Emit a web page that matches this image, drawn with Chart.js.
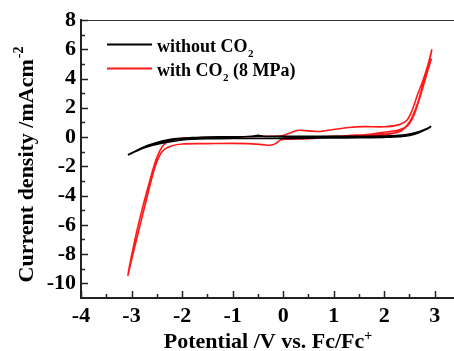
<!DOCTYPE html>
<html>
<head>
<meta charset="utf-8">
<script src="https://cdn.jsdelivr.net/npm/chart.js@4.4.1/dist/chart.umd.min.js"></script>
<style>
html,body{margin:0;padding:0;overflow:hidden;background:#fff;width:454px;height:351px;}
canvas{display:block;}
</style>
</head>
<body>
<canvas id="c" width="470" height="351"></canvas>
<script>
// ---- data ----
const xTickValues = [-4, -3, -2, -1, 0, 1, 2, 3];
const yTickValues = [-10, -8, -6, -4, -2, 0, 2, 4, 6, 8];
const seriesNames = ['without CO', 'with CO'];

// without CO2 (black) – potential /V
const blackX = [-3.07,-2.9,-2.7,-2.5,-2.3,-2.1,-1.8,-1.5,-1.0,-0.6,-0.5,-0.4,0.0,0.5,1.0,1.5,2.0,2.3,2.5,2.7,2.85,2.92,
  2.9,2.75,2.6,2.4,2.2,2.0,1.5,1.0,0.5,0.0,-0.5,-1.0,-1.5,-1.8,-2.0,-2.2,-2.4,-2.6,-2.8,-3.06,
  -2.9,-2.7,-2.5,-2.3,-2.1,-1.8,-1.5,-1.0,0.0,1.0,2.0,2.3,2.5,2.7,2.85,2.93];
const blackY = [-1.23,-0.95,-0.65,-0.42,-0.25,-0.13,-0.06,-0.03,0.0,0.06,0.12,0.06,0.03,0.03,0.04,0.05,0.06,0.1,0.18,0.35,0.55,0.72,
  0.65,0.4,0.2,0.06,0.0,-0.02,-0.05,-0.06,-0.08,-0.1,-0.1,-0.1,-0.12,-0.15,-0.2,-0.3,-0.42,-0.58,-0.8,-1.2,
  -0.92,-0.6,-0.37,-0.2,-0.1,-0.04,0.0,0.02,0.05,0.05,0.07,0.12,0.2,0.38,0.58,0.75];

// with CO2 (8 MPa) (red)
const redX = [0.0,0.5,1.0,1.5,1.9,2.2,2.35,2.47,2.6,2.77,2.93,
  2.9,2.75,2.6,2.47,2.3,2.0,1.65,1.3,1.0,0.5,0.1,-0.05,-0.15,-0.26,-0.4,-0.7,-1.0,-1.5,-2.0,-2.2,-2.35,-2.45,-2.55,-2.7,-2.85,-3.0,-3.07,
  -3.04,-2.9,-2.75,-2.6,-2.5,-2.4,-2.3,-2.17,-2.0,-1.5,-1.0,-0.5,-0.2,0.0,0.15,0.3,0.5,0.7,1.0,1.3,1.6,2.0,2.3,2.45,2.55,2.65,2.78,2.87,2.94,
  2.92,2.8,2.65,2.5,2.35,2.1,1.8,1.5,1.0,0.5,0.2,0.0];
const redY = [-0.05,0.0,0.05,0.1,0.18,0.3,0.5,0.87,1.7,3.5,5.3,
  5.0,3.2,1.6,0.8,0.5,0.33,0.17,0.1,0.0,-0.12,-0.15,-0.2,-0.45,-0.56,-0.52,-0.45,-0.43,-0.45,-0.47,-0.6,-0.85,-1.3,-2.2,-4.2,-6.3,-8.4,-9.45,
  -8.8,-6.5,-4.4,-2.5,-1.4,-0.7,-0.35,-0.15,-0.08,-0.03,0.0,0.05,0.05,0.1,0.3,0.46,0.42,0.38,0.52,0.65,0.71,0.7,0.85,1.15,1.8,2.8,4.0,5.0,5.95,
  5.6,4.0,2.2,1.0,0.45,0.2,0.1,0.05,0.0,-0.1,-0.12,-0.1];

const toPts = (xs, ys) => xs.map((x, i) => ({x: x, y: ys[i]}));

const FONT = '"Liberation Serif","Times New Roman",serif';

// inward minor/major ticks, top frame line, legend and axis titles
const decor = {
  id: 'decor',
  afterDraw(chart) {
    const ctx = chart.ctx, a = chart.chartArea;
    const xs = chart.scales.x, ys = chart.scales.y;
    ctx.save();
    // top frame
    ctx.strokeStyle = '#333';
    ctx.lineWidth = 1;
    ctx.beginPath(); ctx.moveTo(a.left, a.top + 0.5); ctx.lineTo(a.right, a.top + 0.5); ctx.stroke();
    // ticks
    ctx.strokeStyle = '#222';
    ctx.lineWidth = 1.5;
    for (let v = -4; v <= 3.5001; v += 0.5) {
      const px = Math.round(xs.getPixelForValue(v)) + 0.5;
      const major = Math.abs(v - Math.round(v)) < 1e-6;
      const len = major ? 7 : 4;
      ctx.beginPath(); ctx.moveTo(px, a.bottom); ctx.lineTo(px, a.bottom - len); ctx.stroke();
    }
    for (let v = -10; v <= 8; v += 1) {
      const py = Math.round(ys.getPixelForValue(v)) + 0.5;
      const major = v % 2 === 0;
      const len = major ? 7 : 4;
      ctx.beginPath(); ctx.moveTo(a.left, py); ctx.lineTo(a.left + len, py); ctx.stroke();
    }
    // legend
    const items = [
      {color: '#000000', y: 44.5, main: 'without CO', sub: '2', tail: ''},
      {color: '#ff1a1a', y: 68.5, main: 'with CO', sub: '2', tail: ' (8 MPa)'}
    ];
    items.forEach(it => {
      ctx.strokeStyle = it.color;
      ctx.lineWidth = 1.8;
      ctx.beginPath(); ctx.moveTo(107, it.y); ctx.lineTo(152, it.y); ctx.stroke();
      ctx.fillStyle = '#000';
      ctx.textBaseline = 'alphabetic';
      ctx.textAlign = 'left';
      ctx.font = 'bold 18px ' + FONT;
      let x = 157;
      const base = it.y + 7;
      ctx.fillText(it.main, x, base);
      x += ctx.measureText(it.main).width;
      ctx.font = 'bold 11px ' + FONT;
      ctx.fillText(it.sub, x + 0.5, base + 5);
      x += ctx.measureText(it.sub).width + 0.5;
      if (it.tail) {
        ctx.font = 'bold 18px ' + FONT;
        ctx.fillText(it.tail, x, base);
      }
    });
    // x title
    ctx.font = 'bold 22px ' + FONT;
    const xt = 'Potential /V vs. Fc/Fc';
    const xw = ctx.measureText(xt).width;
    ctx.font = 'bold 14px ' + FONT;
    const supW = ctx.measureText('+').width;
    const x0 = 268 - (xw + supW) / 2;
    ctx.font = 'bold 22px ' + FONT;
    ctx.fillText(xt, x0, 348);
    ctx.font = 'bold 14px ' + FONT;
    ctx.fillText('+', x0 + xw, 340);
    // y title (rotated)
    ctx.translate(33, 175);
    ctx.rotate(-Math.PI / 2);
    ctx.font = 'bold 22px ' + FONT;
    const yt = 'Current density /mAcm';
    const yw = ctx.measureText(yt).width;
    ctx.font = 'bold 14px ' + FONT;
    const ysw = ctx.measureText('-2').width;
    const y0 = -(yw + ysw) / 2 + 10;
    ctx.font = 'bold 22px ' + FONT;
    ctx.fillText(yt, y0, 0);
    ctx.font = 'bold 14px ' + FONT;
    ctx.fillText('-2', y0 + yw + 1, -10);
    ctx.restore();
  }
};

new Chart(document.getElementById('c'), {
  type: 'scatter',
  data: {
    datasets: [
      {label: seriesNames[0] + '2', data: toPts(blackX, blackY), showLine: true, borderColor: '#000000',
       borderWidth: 1.6, pointRadius: 0, tension: 0.3, fill: false},
      {label: seriesNames[1] + '2 (8 MPa)', data: toPts(redX, redY), showLine: true, borderColor: '#ff1a1a',
       borderWidth: 1.6, pointRadius: 0, tension: 0.3, fill: false}
    ]
  },
  options: {
    responsive: false,
    devicePixelRatio: 1,
    animation: false,
    layout: {padding: {left: 0, top: 20, right: 10, bottom: 0}},
    plugins: {legend: {display: false}, tooltip: {enabled: false}},
    scales: {
      x: {
        type: 'linear', min: -4, max: 3.5,
        afterBuildTicks: s => { s.ticks = xTickValues.map(v => ({value: v})); },
        afterFit: s => { s.height = 53; },
        grid: {display: false, drawTicks: false},
        border: {display: true, width: 2, color: '#222'},
        ticks: {padding: 5, color: '#000', font: {family: FONT, size: 22, weight: 'bold'},
                maxRotation: 0, autoSkip: false, callback: v => String(v)}
      },
      y: {
        type: 'linear', min: -11, max: 8,
        afterBuildTicks: s => { s.ticks = yTickValues.map(v => ({value: v})); },
        afterFit: s => { s.width = 81; },
        grid: {display: false, drawTicks: false},
        border: {display: true, width: 2, color: '#222'},
        ticks: {padding: 5, color: '#000', font: {family: FONT, size: 22, weight: 'bold'},
                autoSkip: false, callback: v => String(v)}
      }
    }
  },
  plugins: [decor]
});
</script>
</body>
</html>
